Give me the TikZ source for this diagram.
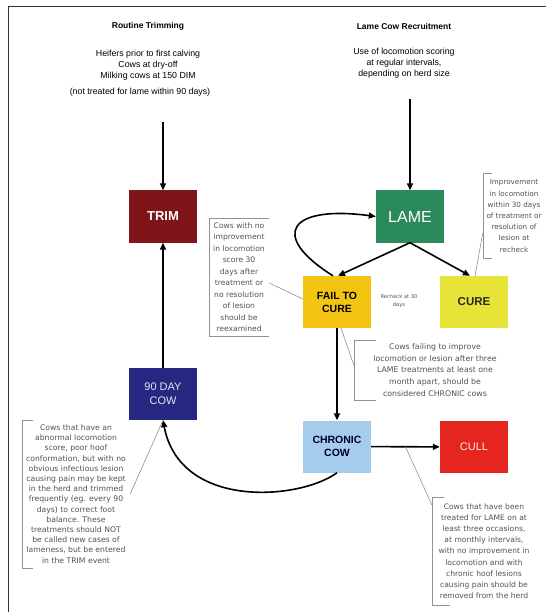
\documentclass[tikz,border=0pt]{standalone}
\usepackage{fontspec}
\setmainfont{Liberation Sans}
\newfontfamily\notefont{DejaVu Sans}
\usetikzlibrary{positioning, arrows.meta, calc}

\definecolor{trimred}{HTML}{7E1518}
\definecolor{lamegreen}{HTML}{2B8A5A}
\definecolor{failyellow}{HTML}{F3C512}
\definecolor{cureyellow}{HTML}{E6E537}
\definecolor{daynavy}{HTML}{262780}
\definecolor{chronicblue}{HTML}{A6CCEC}
\definecolor{cullred}{HTML}{E4261F}
\definecolor{leadergrey}{HTML}{9C8E8E}
\definecolor{notetext}{HTML}{555050}

\begin{document}
\begin{tikzpicture}[
					x=1pt, y=-1pt,
					stage/.style={minimum width=68pt, minimum height=52pt, inner sep=0pt, align=center},
					flow/.style={line width=1.6pt, -{Triangle[length=7pt,width=6pt]}},
					note/.style={inner sep=0pt, align=center, text=notetext},
					bracket/.style={leadergrey, line width=0.6pt},
					heading/.style={align=center, font=\bfseries\fontsize{8.5}{11}\selectfont},
					criteria/.style={align=center, font=\fontsize{8.8}{11}\selectfont}
					]
					\useasboundingbox (0,0) rectangle (546,612);
					\draw[line width=1pt, black!80] (8,612) -- (8,7) -- (546,7);
					
					% Headings
					\node[heading] (RoutineHead) at (148,26) {Routine Trimming};
					\node[criteria] (TrimCriteria) at (148,65) {Heifers prior to first calving\\Cows at dry-off\\Milking cows at 150 DIM};
					\node[criteria] (TrimExcl) at (140,92) {(not treated for lame within 90 days)};
					\node[heading] (LameHead) at (404,26) {Lame Cow Recruitment};
					\node[criteria] (LameCriteria) at (404,63) {Use of locomotion scoring\\at regular intervals,\\depending on herd size};
					\coordinate (trimin) at (163,122);
					\coordinate (lamein) at (410,99);
					
					% Nodes
					\node[stage, fill=trimred, text=white, font=\bfseries\fontsize{13}{15}\selectfont] (Trim) at (163,216.5) {TRIM};
					\node[stage, fill=lamegreen, text=white, font=\fontsize{16}{18}\selectfont] (Lame) at (410,216.5) {LAME};
					\node[stage, fill=failyellow, text=black, font=\bfseries\fontsize{10.5}{13}\selectfont] (Fail) at (337,302) {FAIL TO\\CURE};
					\node[stage, fill=cureyellow, text=black!85, font=\bfseries\fontsize{11.5}{13}\selectfont] (Cure) at (474,302) {CURE};
					\node[stage, fill=daynavy, text=white!88!daynavy, font=\fontsize{11}{14}\selectfont] (Cow90) at (163,394) {90 DAY\\COW};
					\node[stage, fill=chronicblue, text=black!85!blue, font=\bfseries\fontsize{10.5}{13}\selectfont] (Chronic) at (337,446.5) {CHRONIC\\COW};
					\node[stage, fill=cullred, text=white!90!cullred, font=\fontsize{11}{13}\selectfont] (Cull) at (474,447) {CULL};
					
					% Notes
					\node[note, minimum width=60pt, minimum height=118pt, font=\notefont\fontsize{7.6}{11.5}\selectfont] (FailNote) at (239,277)
					{Cows with no\\improvement\\in locomotion\\score 30\\days after\\treatment or\\no resolution\\of lesion\\should be\\reexamined};
					\node[note, minimum width=62pt, minimum height=84pt, font=\notefont\fontsize{7.2}{11.2}\selectfont] (CureNote) at (514,216)
					{Improvement\\in locomotion\\within 30 days\\of treatment or\\resolution of\\lesion at\\recheck};
					\node[note, font=\notefont\fontsize{5.2}{8}\selectfont] (Recheck) at (399,301) {Recheck at 30\\days};
					\node[note, minimum width=162pt, minimum height=60pt, font=\notefont\fontsize{7.8}{11.8}\selectfont] (ChronicNote) at (435,370)
					{Cows failing to improve\\locomotion or lesion after three\\LAME treatments at least one\\month apart, should be\\considered CHRONIC cows};
					\node[note, minimum width=108pt, minimum height=148pt, font=\notefont\fontsize{7.7}{10.2}\selectfont] (TrimNote) at (76,494)
					{Cows that have an\\abnormal locomotion\\score, poor hoof\\conformation, but with no\\obvious infectious lesion\\causing pain may be kept\\in the herd and trimmed\\frequently (eg. every 90\\days) to correct foot\\balance. These\\treatments should NOT\\be called new cases of\\lameness, but be entered\\in the TRIM event};
					\node[note, minimum width=104pt, minimum height=108pt, font=\notefont\fontsize{7.6}{11.2}\selectfont] (CullNote) at (484,551)
					{Cows that have been\\treated for LAME on at\\least three occasions,\\at monthly intervals,\\with no improvement in\\locomotion and with\\chronic hoof lesions\\causing pain should be\\removed from the herd};
					
					% Edges
					\draw[flow] (trimin) -- (Trim);
					\draw[flow] (lamein) -- (Lame);
					\draw[flow] (Cow90) -- (Trim);
					\draw[flow] (Lame.south) -- ([xshift=1pt]Fail.north);
					\draw[flow] (Lame.south) -- ([xshift=-4pt]Cure.north);
					\draw[flow] ([xshift=-4pt]Fail.north) .. controls (268,235) and (290,205) .. (Lame.west);
					\draw[flow] (Fail) -- (Chronic);
					\draw[flow] (Chronic) -- (Cull);
					\draw[flow] (Chronic.south) .. controls (300,500) and (180,510) .. (Cow90.south);
					
					% Brackets and leaders
					\draw[bracket] (FailNote.north east) -- (FailNote.north west) -- (FailNote.south west) -- (FailNote.south east);
					\draw[bracket] ([xshift=9pt]CureNote.north west) -- (CureNote.north west) -- (CureNote.south west) -- ([xshift=9pt]CureNote.south west);
					\draw[bracket] ([xshift=22pt]ChronicNote.north west) -- (ChronicNote.north west) -- (ChronicNote.south west) -- ([xshift=22pt]ChronicNote.south west);
					\draw[bracket] ([xshift=11pt]TrimNote.north west) -- (TrimNote.north west) -- (TrimNote.south west) -- ([xshift=11pt]TrimNote.south west);
					\draw[bracket] ([xshift=12pt]CullNote.north west) -- (CullNote.north west) -- (CullNote.south west) -- ([xshift=18pt]CullNote.south west);
					\draw[bracket] ([yshift=-6pt]FailNote.east) -- ([yshift=3pt]Fail.west);
					\draw[bracket] ([yshift=-17pt]CureNote.west) -- ([xshift=1pt]Cure.north);
					\draw[bracket] ([yshift=5pt]ChronicNote.west) -- ([xshift=4pt]Fail.south);
					\draw[bracket] (TrimNote.east) -- (Cow90.south);
					\draw[bracket] ([yshift=-8pt]CullNote.north west) -- ($(Chronic.east)!0.5!(Cull.west)$);
				\end{tikzpicture}
\end{document}
